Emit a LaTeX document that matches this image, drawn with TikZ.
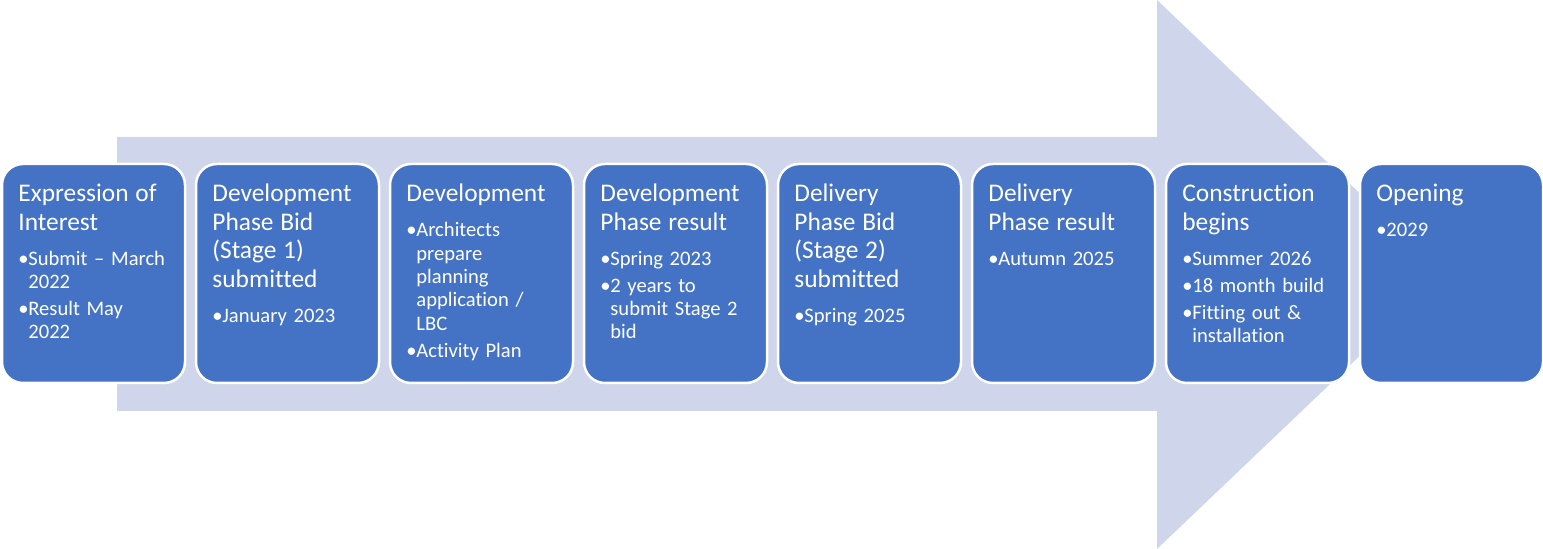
\documentclass[tikz,border=0pt]{standalone}
\usepackage{fontspec}
\setmainfont{Carlito}[Ligatures={NoCommon,TeX}]
\definecolor{stageblue}{HTML}{4472C4}
\definecolor{arrowfill}{HTML}{CFD5EA}
\setlength{\parskip}{0pt}
% title lines, then the bullet points
\newcommand{\stagetext}[2]{{\fontsize{12.7}{14.2}\selectfont #1\par}\vspace{4pt}{\fontsize{10.3}{11.65}\selectfont #2}}
\newcommand{\stagepoint}[1]{\par\vspace{1.85pt}{\leftskip=5pt\noindent\llap{\makebox[5pt][l]{\textbullet}}#1\par}}

\begin{document}
\begin{tikzpicture}[x=0.5pt,y=0.5pt,
  stage/.style={draw=white,line width=1.25pt,fill=stageblue,rounded corners=10.5pt,
    minimum width=91.5pt,minimum height=109.5pt,outer sep=0pt},
  stagelabel/.style={anchor=base west,inner sep=0pt,text=white,text width=80pt,align=left}]
\useasboundingbox (0,0) rectangle (1543,549);

% big arrow behind the boxes
\path[fill=arrowfill] (117,138) -- (117,412) -- (1157,412) -- (1157,549) -- (1445,274.5)
  -- (1157,0) -- (1157,138) -- cycle;

\node[stage] (s1) at (93.5,275.5) {};
\node[stage] (s2) at (287.5,275.5) {};
\node[stage] (s3) at (481.5,275.5) {};
\node[stage] (s4) at (675.5,275.5) {};
\node[stage] (s5) at (869.5,275.5) {};
\node[stage] (s6) at (1063.5,275.5) {};
\node[stage] (s7) at (1257.5,275.5) {};
\node[stage] (s8) at (1451.5,275.5) {};

\node[stagelabel] (t1) at (18,347) {\stagetext{Expression of\\Interest}
  {\stagepoint{Submit -- March\\2022}\stagepoint{Result May\\2022}}};
\node[stagelabel] (t2) at (212,347) {\stagetext{Development\\Phase Bid\\(Stage 1)\\submitted}
  {\stagepoint{January 2023}}};
\node[stagelabel] (t3) at (406,347) {\stagetext{Development}
  {\stagepoint{Architects\\prepare\\planning\\application /\\LBC}\stagepoint{Activity Plan}}};
\node[stagelabel] (t4) at (600,347) {\stagetext{Development\\Phase result}
  {\stagepoint{Spring 2023}\stagepoint{2 years to\\submit Stage 2\\bid}}};
\node[stagelabel] (t5) at (794,347) {\stagetext{Delivery\\Phase Bid\\(Stage 2)\\submitted}
  {\stagepoint{Spring 2025}}};
\node[stagelabel] (t6) at (988,347) {\stagetext{Delivery\\Phase result}
  {\stagepoint{Autumn 2025}}};
\node[stagelabel] (t7) at (1182,347) {\stagetext{Construction\\begins}
  {\stagepoint{Summer 2026}\stagepoint{18 month build}\stagepoint{Fitting out \&\\installation}}};
\node[stagelabel] (t8) at (1376,347) {\stagetext{Opening}
  {\stagepoint{2029}}};
\end{tikzpicture}
\end{document}
